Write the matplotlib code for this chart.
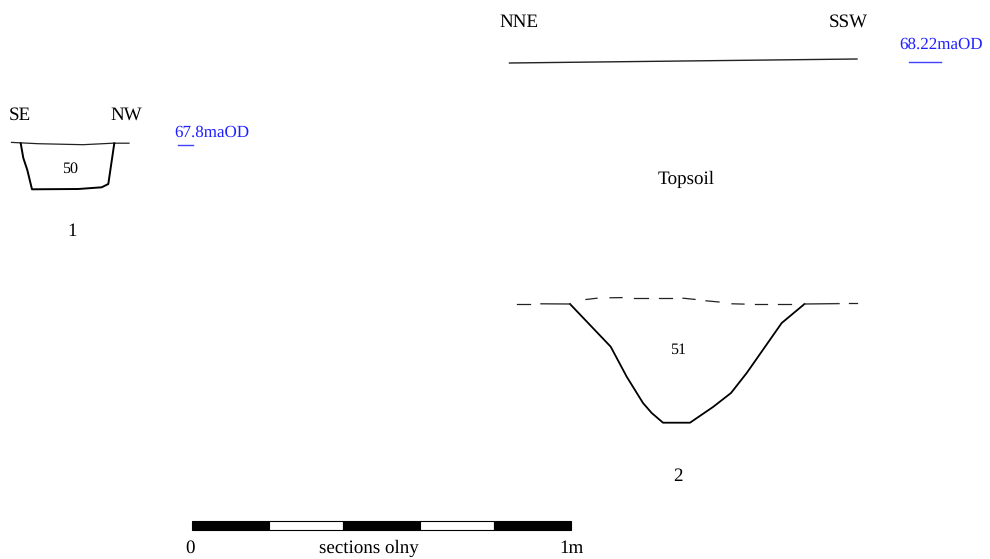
import matplotlib
matplotlib.use("Agg")
import matplotlib.pyplot as plt
from matplotlib.patches import Rectangle

plt.rcParams['font.family'] = ['Liberation Serif', 'DejaVu Serif']
plt.rcParams['text.hinting'] = 'none'
plt.rcParams['text.hinting_factor'] = 1
plt.rcParams['text.kerning_factor'] = 0

# Section 1
ground1_x = [11.5, 38, 83, 113, 129]
ground1_y = [142.4, 143.7, 144.7, 143.2, 143.2]
cut1_x = [20.7, 23.3, 27.3, 32, 78.3, 101.7, 108.3, 114.3]
cut1_y = [143.3, 158, 170, 189.3, 189, 187.3, 184, 143.3]

# Section 2
top2_x = [509.5, 857]
top2_y = [63, 59]
cut2_x = [570, 610.7, 626.7, 643, 651.7, 663, 690, 713, 731, 746.7, 781.7, 804.5]
cut2_y = [304, 346.7, 376.7, 403, 413, 422.7, 422.7, 407, 393, 373, 323, 304]
solid_left_x = [541, 570]
solid_left_y = [303.8, 304]
solid_right_x = [804.5, 839]
solid_right_y = [304, 303.6]
dash_segments = [
    ([517, 530], [303.7, 303.7]),
    ([586, 597], [299.5, 298.2]),
    ([610, 622], [297.8, 297.6]),
    ([634, 648], [297.6, 297.6]),
    ([659, 672], [297.6, 297.6]),
    ([683, 695], [298.2, 299.4]),
    ([706, 719], [300.8, 302]),
    ([732, 744], [303.8, 304.1]),
    ([755, 767], [304.1, 304.1]),
    ([778, 791], [304.1, 304.1]),
    ([849, 857], [303.4, 303.4]),
]

# Elevation ticks
datum1_x = [178, 193]
datum1_y = [145, 145]
datum2_x = [908.5, 941]
datum2_y = [61.7, 61.7]

# Scale bar
bar_edges = [191.7, 269, 343, 420, 494, 571]
bar_colors = ['black', 'white', 'black', 'white', 'black']
bar_top = 520.8
bar_bottom = 529.8

labels = [
    (9, 120, 'SE', 'black', 13.6),
    (110, 120, 'NW', 'black', 13.6),
    (174, 137, '67.8maOD', '#2020ff', 12.2),
    (62, 173, '50', 'black', 11.5),
    (67.5, 236, '1', 'black', 13.6),
    (499, 27, 'NNE', 'black', 13.6),
    (829, 27, 'SSW', 'black', 13.6),
    (899, 49, '68.22maOD', '#2020ff', 12.2),
    (658, 184, 'Topsoil', 'black', 13.6),
    (670, 354, '51', 'black', 11.5),
    (673, 481, '2', 'black', 13.6),
    (185, 553, '0', 'black', 13.6),
    (319, 553, 'sections olny', 'black', 13.6),
    (559, 553, '1m', 'black', 13.6),
]

fig = plt.figure(figsize=(9.9, 5.59), dpi=100, facecolor='white')
ax = fig.add_axes([0, 0, 1, 1])
ax.set_xlim(0, 990)
ax.set_ylim(559, 0)
ax.axis('off')

ax.plot(ground1_x, ground1_y, color='#222222', lw=0.9)
ax.plot(cut1_x, cut1_y, color='black', lw=1.4)
ax.plot(top2_x, top2_y, color='#222222', lw=1.0)
ax.plot(cut2_x, cut2_y, color='black', lw=1.3)
ax.plot(solid_left_x, solid_left_y, color='#333333', lw=1.0)
ax.plot(solid_right_x, solid_right_y, color='#333333', lw=1.0)
for xs, ys in dash_segments:
    ax.plot(xs, ys, color='#222222', lw=0.9)
ax.plot(datum1_x, datum1_y, color='#4040ff', lw=1.0)
ax.plot(datum2_x, datum2_y, color='#4040ff', lw=1.0)

for left, right, colour in zip(bar_edges[:-1], bar_edges[1:], bar_colors):
    ax.add_patch(Rectangle((left, bar_top), right - left, bar_bottom - bar_top,
                           facecolor=colour, edgecolor='black', lw=0.8))

for x, y, s, colour, size in labels:
    ax.text(x, y, s, color=colour, fontsize=size, ha='left', va='baseline')

fig.savefig('out.png', dpi=100)
